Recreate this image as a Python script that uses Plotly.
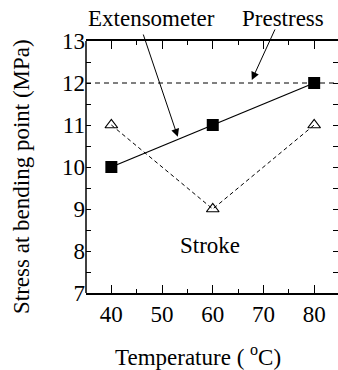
import plotly.graph_objects as go

temperature = [40, 60, 80]
extensometer = [10, 11, 12]
stroke = [11, 9, 11]
prestress = 12

x_ticks = [40, 50, 60, 70, 80]
y_ticks = [7, 8, 9, 10, 11, 12, 13]

FONT = "Liberation Serif, Times New Roman, serif"

# plot area in pixels (for placing labels outside the axes)
L, T, W, H = 86, 41, 252, 252


def px(xp):
    return (xp - L) / W


def py(yp):
    return (T + H - yp) / H


fig = go.Figure()

fig.add_trace(go.Scatter(
    x=temperature, y=extensometer, mode="lines+markers",
    line=dict(color="black", width=1.3),
    marker=dict(symbol="square", size=12, color="black"),
    showlegend=False))

fig.add_trace(go.Scatter(
    x=temperature, y=stroke, mode="lines+markers",
    line=dict(color="black", width=1, dash="4px,3px"),
    marker=dict(symbol="triangle-up-open", size=11, color="black",
                line=dict(color="black", width=1.2)),
    showlegend=False))

# prestress line
fig.add_shape(type="line", xref="paper", x0=0, x1=1, yref="y", y0=prestress, y1=prestress,
              line=dict(color="black", width=1, dash="5px,4px"), layer="below")
# left axis line
fig.add_shape(type="line", xref="paper", x0=0, x1=0, yref="paper", y0=0, y1=1,
              line=dict(color="black", width=1.5))

ann_font = dict(family=FONT, size=23, color="black")

fig.add_annotation(x=53.1, y=10.72, ax=46.2, ay=13.19, axref="x", ayref="y",
                   text="", showarrow=True, arrowhead=2, arrowsize=1.6, arrowwidth=1,
                   arrowcolor="black")
fig.add_annotation(x=67.7, y=12.07, ax=72.4, ay=13.31, axref="x", ayref="y",
                   text="", showarrow=True, arrowhead=2, arrowsize=1.6, arrowwidth=1,
                   arrowcolor="black")

fig.add_annotation(xref="paper", yref="paper", x=px(151.5), y=py(18), xanchor="center",
                   yanchor="middle", text="Extensometer", showarrow=False, font=ann_font)
fig.add_annotation(xref="paper", yref="paper", x=px(282.5), y=py(18), xanchor="center",
                   yanchor="middle", text="Prestress", showarrow=False, font=ann_font)
fig.add_annotation(x=59.4, y=8.14, xanchor="center", yanchor="middle", text="Stroke",
                   showarrow=False, font=ann_font)

# axis titles
fig.add_annotation(xref="paper", yref="paper", x=px(197.5), y=py(355), xanchor="center",
                   yanchor="middle", text="Temperature ( <sup>o</sup>C)", showarrow=False,
                   font=ann_font)
fig.add_annotation(xref="paper", yref="paper", x=px(21), y=py(177), xanchor="center",
                   yanchor="middle", text="Stress at bending point (MPa)", textangle=-90,
                   showarrow=False, font=ann_font)

fig.update_xaxes(range=[35, 84.7], tickvals=x_ticks, ticks="inside", ticklen=8, tickwidth=1.2,
                 tickcolor="black", showline=True, linewidth=1.5, linecolor="black",
                 mirror="ticks", showgrid=False, zeroline=False,
                 tickfont=dict(family=FONT, size=23, color="black"),
                 minor=dict(ticks="inside", ticklen=4, tickwidth=1.2, tickcolor="black",
                            dtick=5, tick0=0, showgrid=False))
fig.update_yaxes(range=[7, 13], tickvals=y_ticks, ticks="inside", ticklen=5, tickwidth=1.2,
                 tickcolor="black", showline=False, mirror="ticks", showgrid=False,
                 zeroline=False,
                 tickfont=dict(family=FONT, size=23, color="black"),
                 minor=dict(ticks="inside", ticklen=5, tickwidth=1.2, tickcolor="black",
                            dtick=0.5, tick0=0, showgrid=False))

fig.update_layout(width=338, height=370, margin=dict(l=L, r=338 - L - W, t=T, b=370 - T - H),
                  plot_bgcolor="white", paper_bgcolor="white", showlegend=False)

fig.write_html("out.html")
